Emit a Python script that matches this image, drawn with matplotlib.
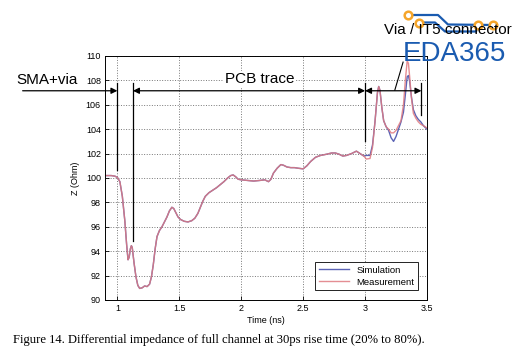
import matplotlib.pyplot as plt
from matplotlib.lines import Line2D

plt.rcParams['font.family'] = ['Liberation Sans', 'DejaVu Sans']

# time axis (ns) and impedance (Ohm)
t_common = [0.90, 0.95, 0.98, 1.00, 1.02, 1.04, 1.06, 1.075, 1.086, 1.095,
            1.105, 1.113, 1.12, 1.135, 1.15, 1.165, 1.18, 1.20, 1.22, 1.24,
            1.26, 1.275, 1.29, 1.305, 1.32, 1.34, 1.36, 1.38, 1.40, 1.42,
            1.44, 1.455, 1.47, 1.49, 1.51, 1.54, 1.57, 1.60, 1.625, 1.65,
            1.67, 1.69, 1.71, 1.74, 1.77, 1.80, 1.83, 1.86, 1.89, 1.915,
            1.935, 1.955, 1.975, 2.00, 2.05, 2.10, 2.15, 2.19, 2.22, 2.24,
            2.26, 2.29, 2.32, 2.34, 2.37, 2.40, 2.43, 2.46, 2.50, 2.53,
            2.56, 2.60, 2.64, 2.69, 2.73, 2.76, 2.79, 2.82, 2.85, 2.89,
            2.93, 2.96, 2.99]
z_common = [100.2, 100.2, 100.15, 100.05, 99.7, 98.5, 96.5, 94.5, 93.3, 93.5,
            94.2, 94.45, 94.3, 93.0, 91.9, 91.2, 90.95, 91.0, 91.15, 91.1,
            91.3, 91.9, 92.9, 94.2, 95.2, 95.7, 96.0, 96.4, 96.8, 97.3,
            97.6, 97.5, 97.2, 96.8, 96.6, 96.45, 96.4, 96.5, 96.7, 97.1,
            97.6, 98.1, 98.5, 98.8, 99.0, 99.2, 99.45, 99.7, 100.0, 100.2,
            100.25, 100.1, 99.9, 99.85, 99.8, 99.75, 99.8, 99.85, 99.7, 99.9,
            100.4, 100.8, 101.1, 101.05, 100.9, 100.85, 100.85, 100.8, 100.75, 101.0,
            101.35, 101.7, 101.85, 101.95, 102.05, 102.05, 101.95, 101.8, 101.85, 102.0,
            102.2, 102.0, 101.8]

t_tail = [3.01, 3.04, 3.06, 3.08, 3.10, 3.11, 3.12, 3.135, 3.15, 3.17,
          3.19, 3.21, 3.23, 3.25, 3.27, 3.29, 3.31, 3.325, 3.34, 3.35,
          3.36, 3.375, 3.39, 3.41, 3.43, 3.45, 3.47, 3.50]
sim_tail = [101.85, 101.85, 102.7, 104.6, 107.0, 107.5, 107.2, 105.8, 104.7, 104.2,
            103.9, 103.3, 103.0, 103.4, 104.0, 104.6, 105.4, 106.8, 108.3, 108.4,
            107.9, 106.6, 105.6, 105.1, 104.8, 104.6, 104.3, 104.0]
meas_tail = [101.55, 101.6, 102.5, 104.6, 107.0, 107.5, 107.2, 105.8, 104.7, 104.2,
             104.0, 103.7, 103.7, 103.9, 104.3, 104.7, 106.0, 108.0, 109.6, 109.4,
             108.3, 106.5, 105.3, 104.9, 104.6, 104.4, 104.3, 104.1]

t = t_common + t_tail
sim = z_common + sim_tail
meas = z_common + meas_tail

x_ticks = [1, 1.5, 2, 2.5, 3, 3.5]
x_tick_labels = ['1', '1.5', '2', '2.5', '3', '3.5']
y_ticks = [90, 92, 94, 96, 98, 100, 102, 104, 106, 108, 110]

W, H = 525, 356
fig = plt.figure(figsize=(W / 100, H / 100), dpi=100)
ax = fig.add_axes([105 / W, 1 - 300 / H, (427 - 105) / W, (300 - 56) / H])

ax.plot(t, sim, color='#5b63b5', lw=1.0, label='Simulation')
ax.plot(t, meas, color='#e07a80', lw=1.0, alpha=0.85, label='Measurement')

ax.set_xlim(0.9, 3.5)
ax.set_ylim(90, 110)
ax.set_xticks(x_ticks)
ax.set_xticklabels(x_tick_labels)
ax.set_yticks(y_ticks)
ax.tick_params(direction='in', length=3, width=0.6, labelsize=6.5, pad=3)
ax.grid(True, linestyle=':', color='#777777', lw=0.7)
for s in ax.spines.values():
    s.set_linewidth(0.7)
ax.set_xlabel('Time (ns)', fontsize=6.5, labelpad=2)
ax.set_ylabel('Z (Ohm)', fontsize=6.5, labelpad=4)

leg = ax.legend(loc='lower right', fontsize=6.8, handlelength=3.2, fancybox=False,
                edgecolor='black', framealpha=1, borderpad=0.4, labelspacing=0.3,
                bbox_to_anchor=(0.988, 0.02))
leg.get_frame().set_linewidth(0.6)

# section markers
ya = 107.15
kw = dict(color='black', lw=0.9, clip_on=False)
ax.plot([1.0, 1.0], [100.65, 107.8], **kw)
ax.plot([1.126, 1.126], [94.8, 107.75], **kw)
ax.plot([3.0, 3.0], [103.0, 107.75], **kw)
ax.plot([3.455, 3.455], [105.2, 107.75], **kw)

ap = dict(color='black', lw=0.9, mutation_scale=9, shrinkA=0, shrinkB=0)
ax.annotate('', xy=(1.0, ya), xytext=(0.235, ya), annotation_clip=False,
            arrowprops=dict(arrowstyle='-|>', **ap))
ax.annotate('', xy=(3.0, ya), xytext=(1.126, ya), annotation_clip=False,
            arrowprops=dict(arrowstyle='<|-|>', **ap))
ax.annotate('', xy=(3.455, ya), xytext=(3.0, ya), annotation_clip=False,
            arrowprops=dict(arrowstyle='<|-|>', **ap))
ax.plot([3.24, 3.307], [107.2, 109.5], color='black', lw=0.8, clip_on=False)

bb = dict(facecolor='white', edgecolor='none', pad=1)
ax.text(0.429, 108.05, 'SMA+via', fontsize=11, ha='center', va='center', bbox=bb, clip_on=False)
ax.text(2.15, 108.1, 'PCB trace', fontsize=11, ha='center', va='center', bbox=bb)
fig.text(448 / W, 1 - 30 / H, 'Via / IT5 connector', fontsize=11, ha='center', va='center')

# watermark logo
def px(x, y):
    return x / W, 1 - y / H

blue = '#1a5bb0'
for path in ([(408, 15), (438, 15), (448, 24.5), (493, 25)],
             [(418, 22.5), (435, 22.5), (445, 31.5), (476, 31.5), (478, 25)]):
    xs = [px(*p)[0] for p in path]
    ys = [px(*p)[1] for p in path]
    fig.add_artist(Line2D(xs, ys, color=blue, lw=1.6, transform=fig.transFigure))
for p in [(408, 15), (418.5, 22.5), (478, 24.5), (493, 25)]:
    fig.add_artist(Line2D([px(*p)[0]], [px(*p)[1]], marker='o', ms=5.5, mfc='white',
                          mec='#f5a52a', mew=1.8, transform=fig.transFigure))
fig.text(*px(454, 54), 'EDA365', fontsize=20, color=blue, ha='center', va='center')

fig.text(13 / W, 1 - 340 / H,
         'Figure 14. Differential impedance of full channel at 30ps rise time (20% to 80%).',
         fontsize=9.05, family=['Liberation Serif', 'DejaVu Serif'], ha='left', va='center')

fig.savefig('out.png', dpi=100)
